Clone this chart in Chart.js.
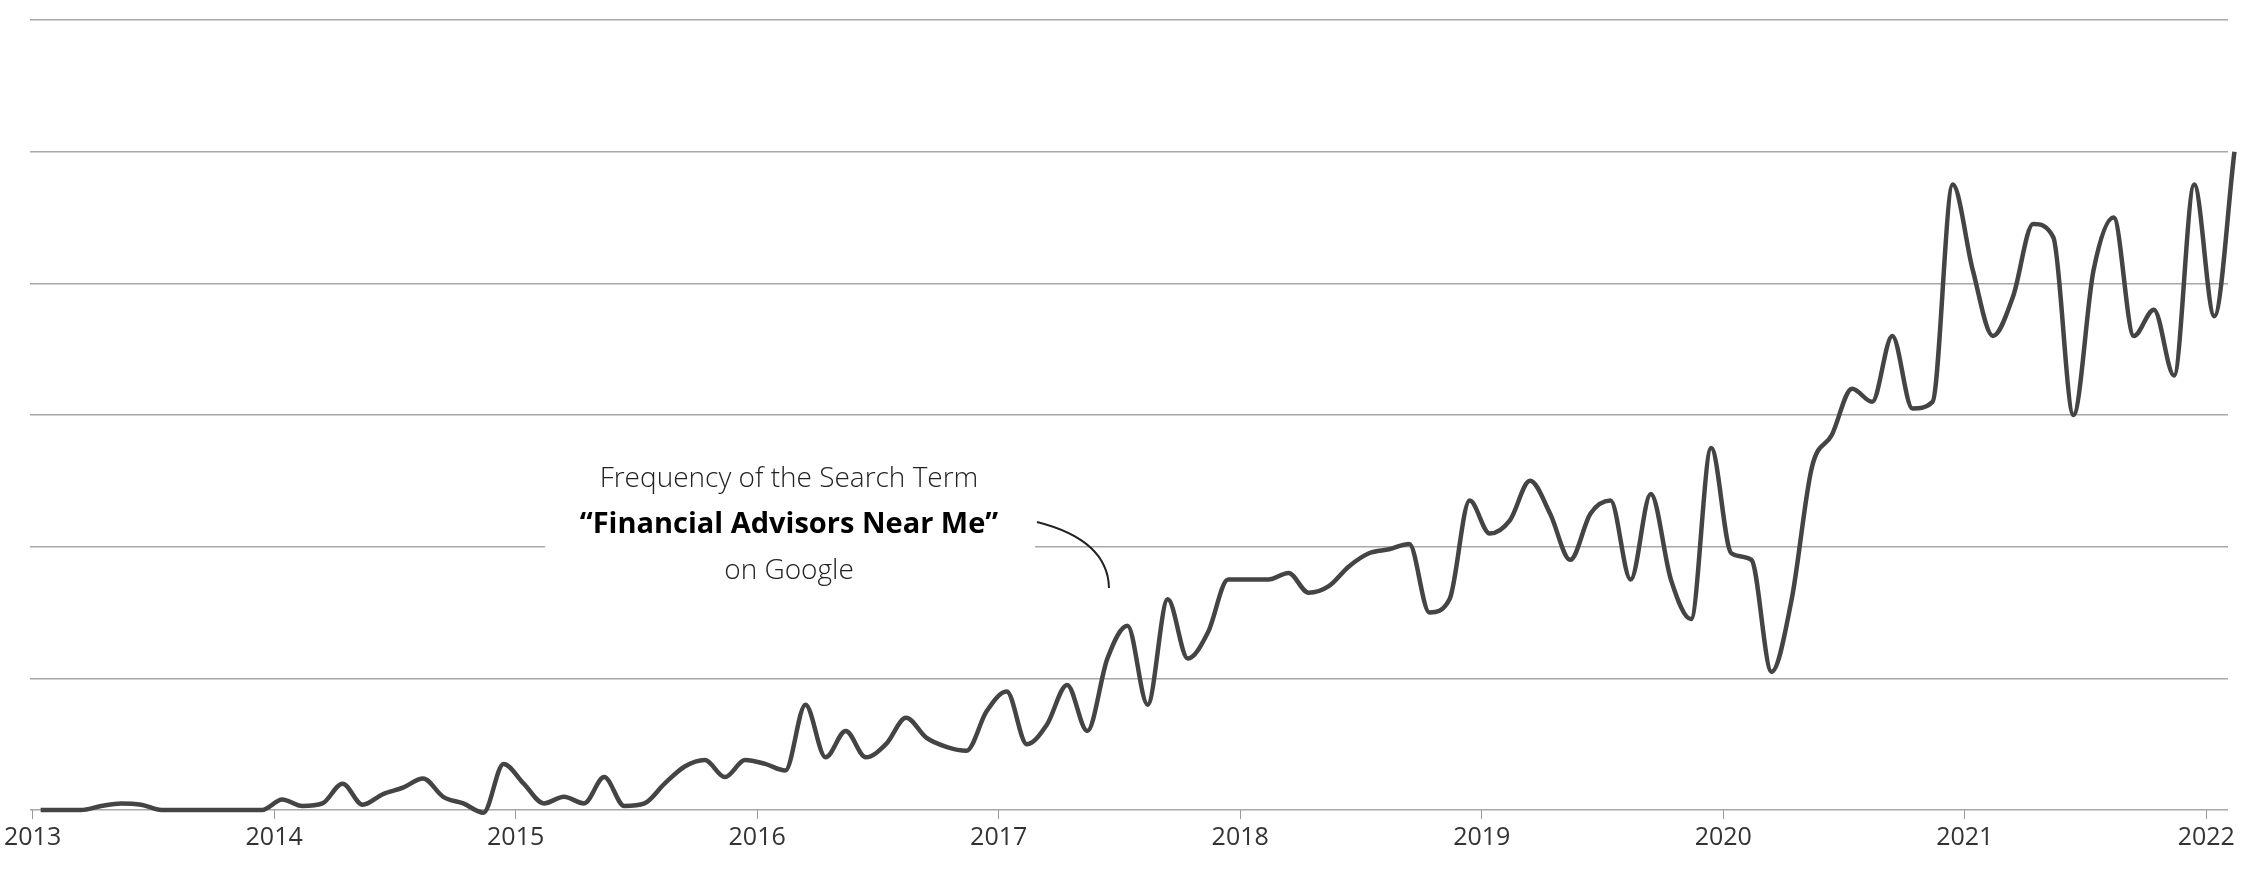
<!DOCTYPE html>
<html>
<head>
<meta charset="utf-8">
<script src="https://cdn.jsdelivr.net/npm/chart.js@4/dist/chart.umd.min.js"></script>
<style>
  html, body { margin: 0; padding: 0; background: #fff; }
  #wrap { width: 2256px; height: 875px; }
</style>
</head>
<body>
<div id="wrap"><canvas id="trendChart"></canvas></div>
<script>
/* Monthly search interest, Jan 2013 – Feb 2022 */
var startYear = 2013;
var values2013 = [0, 0, 0, 0.03, 0.05, 0.04, 0, 0, 0, 0, 0, 0];
var values2014 = [0.08, 0.03, 0.05, 0.2, 0.04, 0.12, 0.17, 0.24, 0.1, 0.05, -0.02, 0.35];
var values2015 = [0.2, 0.05, 0.1, 0.05, 0.25, 0.03, 0.05, 0.2, 0.33, 0.38, 0.25, 0.38];
var values2016 = [0.35, 0.3, 0.8, 0.4, 0.6, 0.4, 0.5, 0.7, 0.55, 0.48, 0.45, 0.75];
var values2017 = [0.9, 0.5, 0.65, 0.95, 0.6, 1.15, 1.4, 0.8, 1.6, 1.15, 1.35, 1.75];
var values2018 = [1.75, 1.75, 1.8, 1.65, 1.7, 1.85, 1.95, 1.98, 2.02, 1.5, 1.6, 2.35];
var values2019 = [2.1, 2.2, 2.5, 2.25, 1.9, 2.25, 2.35, 1.75, 2.4, 1.75, 1.45, 2.75];
var values2020 = [1.95, 1.9, 1.05, 1.6, 2.6, 2.85, 3.2, 3.1, 3.6, 3.05, 3.1, 4.75];
var values2021 = [4.1, 3.6, 3.9, 4.45, 4.35, 3.0, 4.1, 4.5, 3.6, 3.8, 3.3, 4.75];
var values2022 = [3.75, 5.0];
var yearTicks = [2013, 2014, 2015, 2016, 2017, 2018, 2019, 2020, 2021, 2022];
var noteLines = ['Frequency of the Search Term', '\u201cFinancial Advisors Near Me\u201d', 'on Google'];

var allYears = [values2013, values2014, values2015, values2016, values2017,
                values2018, values2019, values2020, values2021, values2022];
var points = [];
allYears.forEach(function(arr, yi) {
  arr.forEach(function(v, m) {
    points.push({ x: startYear + yi + (m + 0.4) / 12, y: v });
  });
});

/* Annotation: text with white backing, plus curved pointer */
var notePlugin = {
  id: 'note',
  afterDatasetsDraw: function(chart) {
    var ctx = chart.ctx;
    var cx = 789;
    ctx.save();
    ctx.fillStyle = '#fff';
    ctx.fillRect(545, 450, 490, 140);
    ctx.textAlign = 'center';
    ctx.textBaseline = 'middle';
    ctx.fillStyle = '#222';
    ctx.font = '300 28px "Open Sans"';
    ctx.fillText(noteLines[0], cx, 479);
    ctx.font = '700 29px "Open Sans"';
    ctx.fillStyle = '#000';
    ctx.fillText(noteLines[1], cx, 525);
    ctx.font = '300 28px "Open Sans"';
    ctx.fillStyle = '#222';
    ctx.fillText(noteLines[2], cx, 571);
    ctx.strokeStyle = '#222';
    ctx.lineWidth = 2;
    ctx.beginPath();
    ctx.moveTo(1037, 522);
    ctx.quadraticCurveTo(1108, 540, 1109, 588);
    ctx.stroke();
    ctx.restore();
  }
};

new Chart(document.getElementById('trendChart').getContext('2d'), {
  type: 'line',
  data: {
    datasets: [{
      data: points,
      borderColor: '#444444',
      borderWidth: 4.5,
      pointRadius: 0,
      cubicInterpolationMode: 'monotone',
      fill: false,
      clip: false
    }]
  },
  options: {
    responsive: true,
    maintainAspectRatio: false,
    animation: false,
    layout: { padding: { left: 29, right: 28, top: 20, bottom: 18 } },
    plugins: { legend: { display: false }, tooltip: { enabled: false } },
    scales: {
      x: {
        type: 'linear',
        min: 2012.99,
        max: 2022.09,
        afterBuildTicks: function(axis) {
          axis.ticks = yearTicks.map(function(y) { return { value: y }; });
        },
        grid: { drawOnChartArea: false, drawTicks: true, tickLength: 9, color: '#999' },
        border: { display: false },
        ticks: {
          color: '#333',
          font: { family: 'Open Sans', size: 25 },
          padding: 4,
          maxRotation: 0,
          callback: function(v) { return String(v); }
        }
      },
      y: {
        min: 0,
        max: 6,
        ticks: { display: false, stepSize: 1 },
        grid: { color: '#a8a8a8', lineWidth: 1.5, drawTicks: false },
        border: { display: false }
      }
    }
  },
  plugins: [notePlugin]
});
</script>
</body>
</html>
